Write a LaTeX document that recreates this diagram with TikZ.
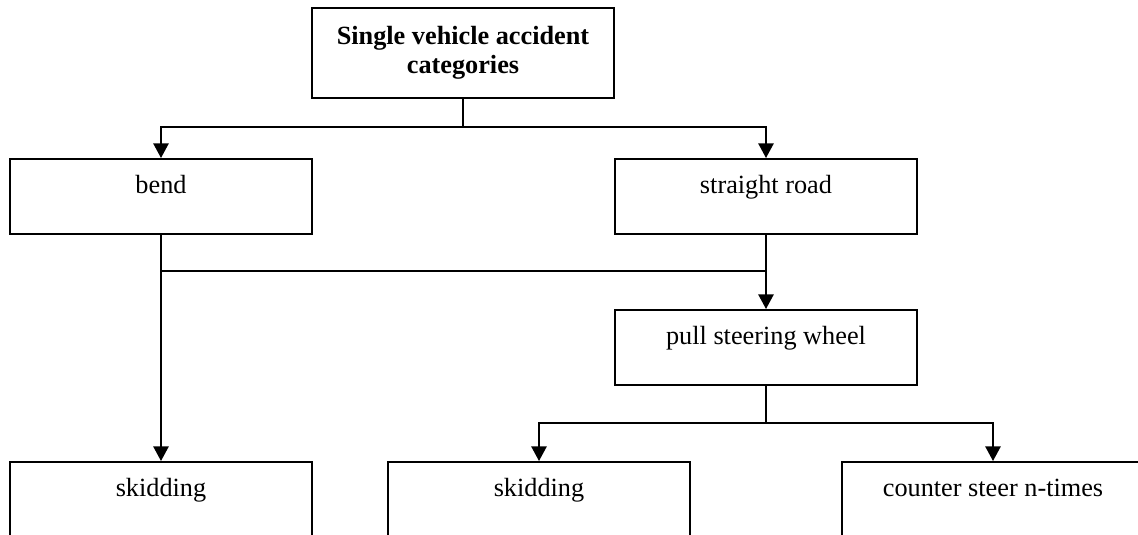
\documentclass[tikz,border=0pt]{standalone}
\usepackage{fontspec}
\setmainfont{Liberation Serif}
\usepackage{tikz}
\usetikzlibrary{arrows.meta,positioning,calc}

\begin{document}
\begin{tikzpicture}[x=0.75pt,y=-0.75pt,
    catbox/.style={draw,line width=1.3pt,anchor=north,minimum width=226.5pt,
                   align=center,inner ysep=0pt},
    stepbox/.style={catbox,text height=26.25pt,text depth=30pt},
    leafbox/.style={catbox,text height=26.25pt,text depth=50pt},
    arr/.style={line width=1.3pt,-{Triangle[length=11pt,width=11.5pt]}},
    lin/.style={line width=1.3pt},
    font=\fontsize{19.7pt}{22pt}\selectfont]
  \useasboundingbox (0,0) rectangle (1138,535);
  \clip (0,0) rectangle (1138,535);
  % --- top ---
  \node[catbox,minimum height=67.5pt,font=\fontsize{19.7pt}{22pt}\selectfont\bfseries]
       (cat) at (463,7) {Single vehicle accident\\categories};
  % --- road type ---
  \node[stepbox] (bend) at (161,158) {bend};
  \node[stepbox] (straight) at (766,158) {straight road};
  \node[stepbox] (pull) at (766,309) {pull steering wheel};
  % --- outcome ---
  \node[leafbox] (skid1) at (161,461) {skidding};
  \node[leafbox] (skid2) at (539,461) {skidding};
  \node[leafbox] (counter) at (993,461) {counter steer n-times};
  % connectors
  \coordinate (j1) at (463,127);
  \coordinate (j2) at (161,271);
  \coordinate (j3) at (766,423);
  \draw[lin] (cat.south) -- (j1);
  \draw[arr] (j1) -| (bend.north);
  \draw[arr] (j1) -| (straight.north);
  \draw[arr] (bend.south) -- (skid1.north);
  \draw[lin] (j2) -- (straight.south |- j2);
  \draw[arr] (straight.south) -- (pull.north);
  \draw[lin] (pull.south) -- (j3);
  \draw[arr] (j3) -| (skid2.north);
  \draw[arr] (j3) -| (counter.north);
\end{tikzpicture}
\end{document}
